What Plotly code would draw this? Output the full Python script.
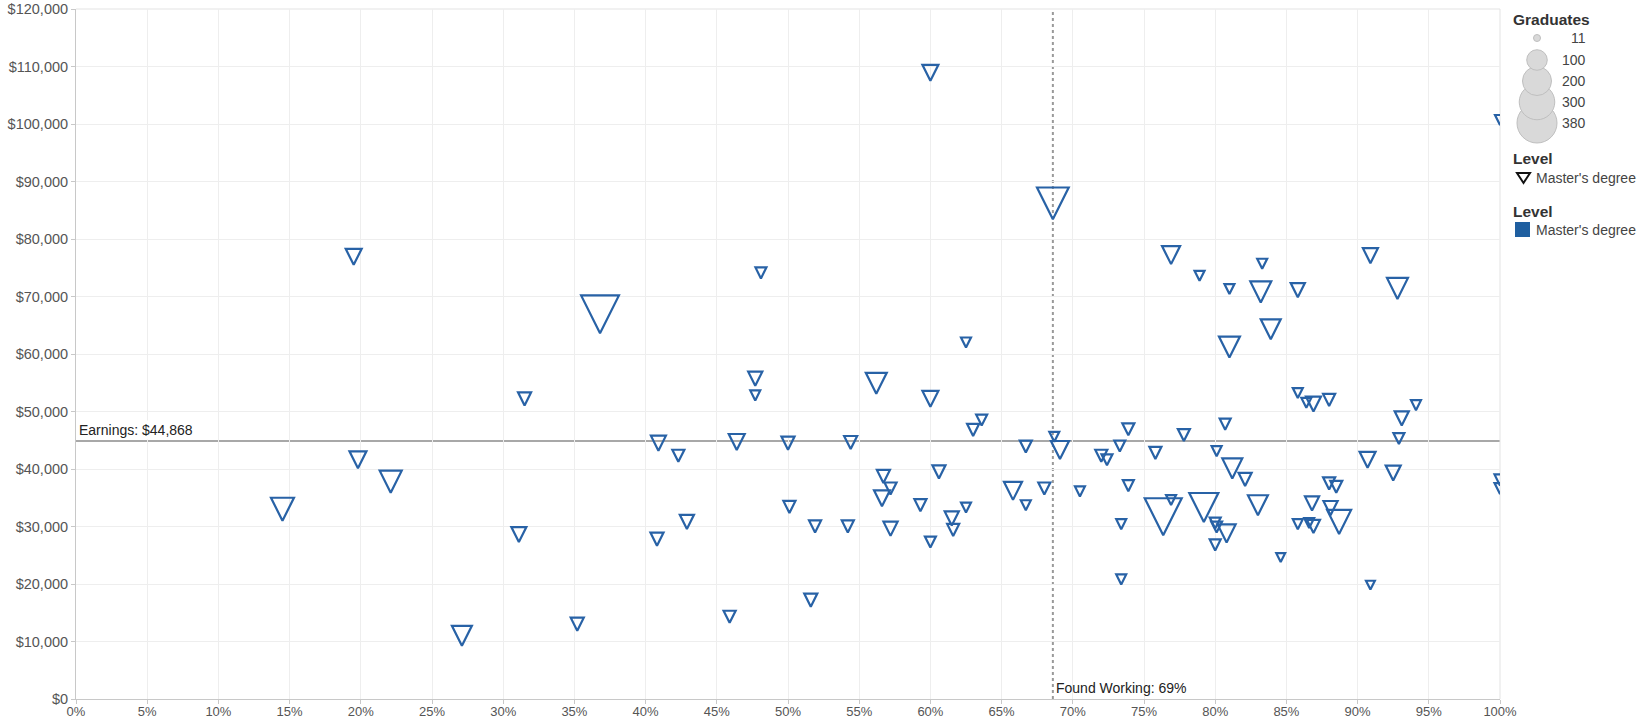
import math
import plotly.graph_objects as go

# ---------------- data ----------------
found_working_pct = [
    14.5, 19.5, 19.8, 22.1, 27.1, 31.1, 31.5, 35.2, 36.8, 40.8,
    40.9, 42.3, 42.9, 45.9, 46.4, 47.7, 47.7, 48.1, 50.0, 50.1,
    51.6, 51.9, 54.2, 54.4, 56.2, 56.6, 56.7, 57.2, 57.2, 59.3,
    60.0, 60.0, 60.0, 60.6, 61.5, 61.6, 62.5, 62.5, 63.0, 63.6,
    65.8, 66.7, 66.7, 68.0, 68.6, 68.7, 69.1, 70.5, 72.0, 72.4,
    73.3, 73.4, 73.4, 73.9, 73.9, 75.8, 76.35, 76.9, 76.9, 77.8,
    78.9, 79.2, 80.0, 80.1, 80.0, 80.1, 80.7, 80.8, 81.0, 81.0,
    81.2, 82.1, 83.0, 83.2, 83.3, 83.9, 84.6, 85.8, 85.8, 85.8,
    86.4, 86.6, 86.8, 86.9, 86.9, 88.0, 88.0, 88.1, 88.5, 88.7,
    90.7, 90.9, 90.9, 92.5, 92.8, 92.9, 93.1, 94.1, 100.0, 100.0,
    100.0,
]
earnings = [
    33000, 76900, 41600, 37800, 11000, 28600, 52200, 13000, 66900, 27800,
    44500, 42300, 30800, 14300, 44700, 55700, 52800, 74100, 44500, 33400,
    17200, 30000, 30000, 44600, 54900, 34900, 38700, 36600, 29600, 33700,
    108900, 52200, 27300, 39500, 31400, 29400, 62000, 33300, 46800, 48500,
    36200, 43900, 33700, 36600, 86200, 45600, 43300, 36100, 42300, 41600,
    44000, 30400, 20800, 46900, 37100, 42800, 31700, 34600, 77200, 45900,
    73600, 33300, 30600, 29900, 26800, 43100, 47800, 28800, 71300, 61200,
    40100, 38200, 33700, 70800, 75700, 64300, 24600, 71100, 53200, 30400,
    51500, 30600, 34000, 51300, 30000, 52000, 37500, 33200, 36900, 30800,
    41600, 77100, 19800, 39300, 71400, 45300, 48800, 51100, 38100, 36600,
    100700,
]
graduates = [
    125, 60, 68, 115, 94, 53, 40, 40, 340, 40,
    53, 34, 47, 34, 60, 47, 23, 28, 40, 34,
    40, 34, 34, 40, 104, 60, 40, 34, 47, 34,
    60, 60, 28, 40, 47, 34, 23, 23, 34, 28,
    77, 34, 23, 34, 239, 23, 77, 23, 34, 28,
    28, 23, 23, 34, 28, 34, 325, 23, 77, 34,
    23, 200, 28, 28, 28, 23, 28, 77, 23, 104,
    94, 40, 94, 104, 23, 94, 18, 47, 23, 23,
    23, 23, 47, 53, 40, 34, 34, 47, 34, 137,
    60, 53, 18, 53, 104, 28, 47, 23, 28, 28,
    23,
]
avg_earnings = 44868
avg_found_working = 68.6
legend_title_size = "Graduates"
legend_sizes = [11, 100, 200, 300, 380]
level_name = "Master's degree"

# ---------------- styling ----------------
BLUE = "#2862a6"
FONT = "Liberation Sans, Arial, sans-serif"
W, H = 1649, 721
PL, PR, PT, PB = 76, 1500, 9, 699


def mark_size(g):
    return math.sqrt(49 + (g - 11) * 4.2)


def px(x):
    return (x - PL) / (PR - PL)


def py(y):
    return (PB - y) / (PB - PT)


sizes = [mark_size(g) for g in graduates]

fig = go.Figure()
fig.add_trace(go.Scatter(
    x=[p / 100 for p in found_working_pct],
    y=earnings,
    mode="markers",
    marker=dict(
        symbol="arrow-down-open",
        size=sizes,
        standoff=[s / 2 for s in sizes],
        color=BLUE,
        opacity=1,
        line=dict(width=2.2, color=BLUE),
    ),
    hoverinfo="skip",
    showlegend=False,
))

shapes = []
annotations = []

# reference lines
shapes.append(dict(type="line", xref="paper", yref="y", x0=0, x1=1,
                   y0=avg_earnings, y1=avg_earnings,
                   line=dict(color="#a8a8a8", width=2), layer="below"))
shapes.append(dict(type="line", xref="x", yref="paper",
                   x0=avg_found_working / 100, x1=avg_found_working / 100,
                   y0=0, y1=1, line=dict(color="#999999", width=2, dash="dot"),
                   layer="below"))
annotations.append(dict(xref="paper", yref="y", x=0.001, y=avg_earnings,
                        xanchor="left", yanchor="bottom", yshift=1,
                        text=f"Earnings: ${avg_earnings:,}", showarrow=False,
                        font=dict(family=FONT, size=14, color="#222222"),
                        bgcolor="white"))
annotations.append(dict(xref="x", yref="paper", x=avg_found_working / 100, y=0,
                        xanchor="left", yanchor="bottom", xshift=1, yshift=1,
                        text=f"Found Working: {round(avg_found_working)}%",
                        showarrow=False,
                        font=dict(family=FONT, size=14, color="#222222")))

# ---------------- custom legend ----------------
title_font = dict(family=FONT, size=15.5, color="#333333")
item_font = dict(family=FONT, size=14, color="#444444")
annotations.append(dict(xref="paper", yref="paper", x=px(1511), y=py(20),
                        xanchor="left", yanchor="middle", showarrow=False,
                        text=f"<b>{legend_title_size}</b>", font=title_font))
row_y = [38, 60, 81, 102, 123]
for v, ry in reversed(list(zip(legend_sizes, row_y))):
    r = mark_size(v) / 2
    shapes.append(dict(type="circle", xref="paper", yref="paper",
                       xsizemode="pixel", ysizemode="pixel",
                       xanchor=px(1537), yanchor=py(ry),
                       x0=-r, x1=r, y0=-r, y1=r,
                       fillcolor="#d9d9d9", line=dict(color="#bfbfbf", width=1),
                       layer="above"))
for v, ry in zip(legend_sizes, row_y):
    annotations.append(dict(xref="paper", yref="paper", x=px(1588), y=py(ry),
                            xanchor="right", yanchor="middle", showarrow=False,
                            text=str(v), font=item_font))

annotations.append(dict(xref="paper", yref="paper", x=px(1511), y=py(159),
                        xanchor="left", yanchor="middle", showarrow=False,
                        text="<b>Level</b>", font=title_font))
shapes.append(dict(type="path", xref="paper", yref="paper",
                   path=f"M{px(1517)},{py(173)} L{px(1530)},{py(173)} L{px(1523.5)},{py(183)} Z",
                   line=dict(color="#111111", width=2), layer="above"))
annotations.append(dict(xref="paper", yref="paper", x=px(1534), y=py(178),
                        xanchor="left", yanchor="middle", showarrow=False,
                        text=level_name, font=item_font))

annotations.append(dict(xref="paper", yref="paper", x=px(1511), y=py(211),
                        xanchor="left", yanchor="middle", showarrow=False,
                        text="<b>Level</b>", font=title_font))
shapes.append(dict(type="rect", xref="paper", yref="paper",
                   x0=px(1515), x1=px(1530), y0=py(237), y1=py(222),
                   fillcolor="#1f5fa0", line=dict(width=0), layer="above"))
annotations.append(dict(xref="paper", yref="paper", x=px(1534), y=py(230),
                        xanchor="left", yanchor="middle", showarrow=False,
                        text=level_name, font=item_font))

# right/top border lines
shapes.append(dict(type="line", xref="paper", yref="paper", x0=1, x1=1, y0=0, y1=1,
                   line=dict(color="#e3e3e3", width=1), layer="below"))
shapes.append(dict(type="line", xref="paper", yref="paper", x0=0, x1=1, y0=1, y1=1,
                   line=dict(color="#e3e3e3", width=1), layer="below"))

axis_common = dict(
    showgrid=True, gridcolor="#eeeeee", gridwidth=1,
    showline=True, linecolor="#c8c8c8", linewidth=1,
    ticks="outside", ticklen=4, tickcolor="#c8c8c8",
    zeroline=False, fixedrange=True, automargin=False,
)

fig.update_layout(
    width=W, height=H,
    margin=dict(l=PL, r=W - PR, t=PT, b=H - PB, autoexpand=False),
    paper_bgcolor="white", plot_bgcolor="white",
    xaxis=dict(range=[0, 1], dtick=0.05, tick0=0, tickformat=".0%",
               tickfont=dict(family=FONT, size=13, color="#555555"),
               ticklabelstandoff=-4,
               **axis_common),
    yaxis=dict(range=[0, 120000], dtick=10000, tick0=0, tickformat="$,.0f",
               tickfont=dict(family=FONT, size=14.5, color="#555555"),
               **axis_common),
    shapes=shapes,
    annotations=annotations,
    showlegend=False,
    font=dict(family=FONT),
)

fig.write_html(
    "out.html",
    config={"displayModeBar": False},
    post_script="document.body.style.margin='0';document.body.style.overflow='hidden';",
)
